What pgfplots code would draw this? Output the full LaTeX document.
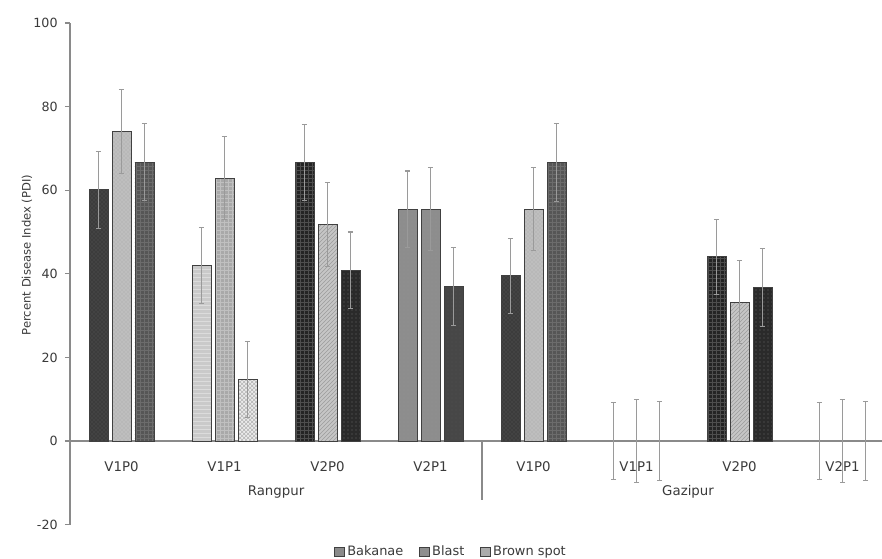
\documentclass[border=0pt]{standalone}
\usepackage{fontspec}
\setmainfont{DejaVu Sans}
\usepackage{pgfplots}
\pgfplotsset{compat=1.18}
\usetikzlibrary{patterns}
\definecolor{axgray}{HTML}{8A8A8A}
\definecolor{txt}{HTML}{3A3A3A}
\definecolor{errc}{HTML}{9A9A9A}
\definecolor{fa}{HTML}{3C3C3C}\definecolor{pa}{HTML}{5E5E5E}
\definecolor{fb}{HTML}{B8B8B8}\definecolor{pb}{HTML}{D2D2D2}
\definecolor{fc}{HTML}{565656}\definecolor{pc}{HTML}{6C6C6C}
\definecolor{fd}{HTML}{CACACA}\definecolor{pd}{HTML}{DCDCDC}
\definecolor{fe}{HTML}{A9A9A9}\definecolor{pe}{HTML}{C0C0C0}
\definecolor{ff}{HTML}{ECECEC}\definecolor{pf}{HTML}{B4B4B4}
\definecolor{fg}{HTML}{242424}\definecolor{pg}{HTML}{4E4E4E}
\definecolor{fh}{HTML}{C6C6C6}\definecolor{ph}{HTML}{9C9C9C}
\definecolor{fi}{HTML}{2A2A2A}\definecolor{pi}{HTML}{6A6A6A}
\definecolor{fj}{HTML}{8D8D8D}\definecolor{pj}{HTML}{959595}
\definecolor{fk}{HTML}{474747}\definecolor{pk}{HTML}{505050}
\definecolor{lga}{HTML}{8A8A8A}\definecolor{lgb}{HTML}{8E8E8E}\definecolor{lgc}{HTML}{ABABAB}
\pgfplotsset{
  bx/.style n args={3}{forget plot, ybar, bar width=0.184, bar shift=0pt,
    fill=#1, draw=black!75, line width=0.6pt,
    postaction={pattern=#2, pattern color=#3},
    error bars/.cd, y dir=both, y explicit,
    error bar style={draw=errc, line width=0.9pt},
    error mark options={rotate=90, draw=errc, mark size=2pt, line width=0.8pt}},
  eb/.style={forget plot, ybar, bar width=0.184, bar shift=0pt,
    fill=none, draw=none,
    error bars/.cd, y dir=both, y explicit,
    error bar style={draw=errc, line width=0.9pt},
    error mark options={rotate=90, draw=errc, mark size=2pt, line width=0.8pt}},
  sq/.style={legend image code/.code={\draw[##1] (0pt,-3.4pt) rectangle (7pt,3.4pt);}},
}
\begin{document}
\begin{tikzpicture}
\begin{axis}[
  at={(0,0)}, anchor=south west, scale only axis,
  width=609pt, height=376.2pt,
  xmin=-0.5, xmax=7.383, ymin=-20, ymax=100,
  axis y line*=left, axis x line*=middle,
  axis line style={axgray, line width=0.8pt},
  ytick={-20,0,20,40,60,80,100},
  xtick={0,1,2,3,4,5,6,7},
  xticklabels={V1P0,V1P1,V2P0,V2P1,V1P0,V1P1,V2P0,V2P1},
  x tick style={draw=none},
  y tick style={axgray, line width=0.8pt},
  tick align=outside, major tick length=3.75pt,
  /pgf/number format/assume math mode=true,
  xticklabel style={font=\fontsize{10}{12}\selectfont, text=txt, anchor=center, yshift=-15.5pt},
  yticklabel style={font=\fontsize{9.5}{11}\selectfont, text=txt, xshift=-2pt},
  ylabel={Percent Disease Index (PDI)},
  ylabel style={at={(axis description cs:-0.053,0.5375)}, anchor=center, font=\fontsize{8.7}{10}\selectfont, text=txt},
  legend style={at={(0.4698,-0.0536)}, anchor=center, draw=none, fill=none,
    legend columns=3, font=\fontsize{9.7}{12}\selectfont, text=txt,
    /tikz/every even column/.append style={column sep=10pt}},
  legend cell align=left,
  clip=false,
]
% Rangpur V1P0
\addplot[bx={fa}{crosshatch dots}{pa}] coordinates {(-0.223,60.1) +- (0,9.2)};
\addplot[bx={fb}{crosshatch dots}{pb}] coordinates {(0,74.0) +- (0,10.0)};
\addplot[bx={fc}{grid}{pc}] coordinates {(0.223,66.7) +- (0,9.2)};
% Rangpur V1P1
\addplot[bx={fd}{horizontal lines}{pd}] coordinates {(0.777,41.9) +- (0,9.1)};
\addplot[bx={fe}{grid}{pe}] coordinates {(1,62.9) +- (0,9.9)};
\addplot[bx={ff}{crosshatch}{pf}] coordinates {(1.223,14.8) +- (0,9.1)};
% Rangpur V2P0
\addplot[bx={fg}{grid}{pg}] coordinates {(1.777,66.7) +- (0,9.1)};
\addplot[bx={fh}{north east lines}{ph}] coordinates {(2,51.8) +- (0,10.0)};
\addplot[bx={fi}{dots}{pi}] coordinates {(2.223,40.8) +- (0,9.2)};
% Rangpur V2P1
\addplot[bx={fj}{dots}{pj}] coordinates {(2.777,55.5) +- (0,9.1)};
\addplot[bx={fj}{dots}{pj}] coordinates {(3,55.5) +- (0,10.0)};
\addplot[bx={fk}{dots}{pk}] coordinates {(3.223,36.9) +- (0,9.3)};
% Gazipur V1P0
\addplot[bx={fa}{crosshatch dots}{pa}] coordinates {(3.777,39.5) +- (0,9.0)};
\addplot[bx={fb}{crosshatch dots}{pb}] coordinates {(4,55.5) +- (0,10.0)};
\addplot[bx={fc}{grid}{pc}] coordinates {(4.223,66.7) +- (0,9.3)};
% Gazipur V1P1
\addplot[eb] coordinates {(4.777,0) +- (0,9.2)};
\addplot[eb] coordinates {(5,0) +- (0,10.0)};
\addplot[eb] coordinates {(5.223,0) +- (0,9.4)};
% Gazipur V2P0
\addplot[bx={fg}{grid}{pg}] coordinates {(5.777,44.1) +- (0,9.0)};
\addplot[bx={fh}{north east lines}{ph}] coordinates {(6,33.2) +- (0,9.9)};
\addplot[bx={fi}{dots}{pi}] coordinates {(6.223,36.7) +- (0,9.3)};
% Gazipur V2P1
\addplot[eb] coordinates {(6.777,0) +- (0,9.2)};
\addplot[eb] coordinates {(7,0) +- (0,10.0)};
\addplot[eb] coordinates {(7.223,0) +- (0,9.4)};
% legend
\addlegendimage{sq, fill=lga, draw=black!75, line width=0.6pt}
\addlegendentry{Bakanae}
\addlegendimage{sq, fill=lgb, draw=black!75, line width=0.6pt}
\addlegendentry{Blast}
\addlegendimage{sq, fill=lgc, draw=black!75, line width=0.6pt}
\addlegendentry{Brown spot}
% separator and group labels
\draw[axgray, line width=0.8pt] (axis cs:3.5,0) -- (axis cs:3.5,-14.1);
\node[font=\fontsize{10}{12}\selectfont, text=txt] at (axis cs:1.5,-12.13) {Rangpur};
\node[font=\fontsize{10}{12}\selectfont, text=txt] at (axis cs:5.5,-12.13) {Gazipur};
\end{axis}
\pgfresetboundingbox
\useasboundingbox (-52.5pt,-25.05pt) rectangle (609pt,393.45pt);
\end{tikzpicture}
\end{document}
